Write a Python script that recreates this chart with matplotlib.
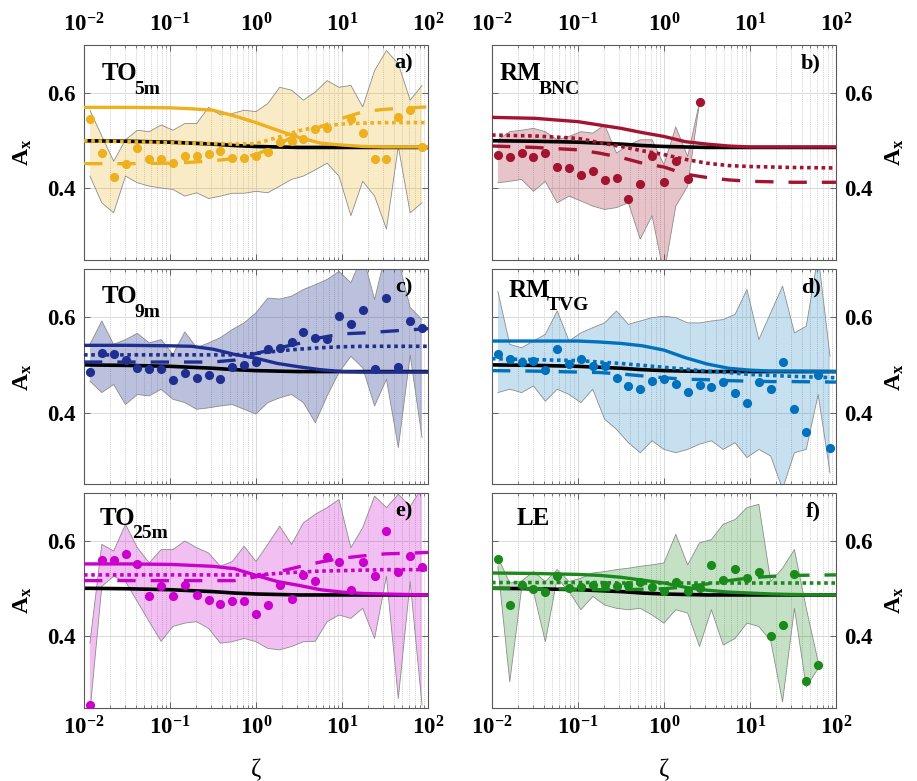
import numpy as np
import matplotlib
matplotlib.use("Agg")
import matplotlib.pyplot as plt
from matplotlib.ticker import LogLocator, FixedLocator, FuncFormatter, NullFormatter

plt.rcParams.update({
    "font.family": "Liberation Serif",
    "mathtext.fontset": "custom",
    "mathtext.rm": "Liberation Serif",
    "mathtext.bf": "Liberation Serif:bold",
    "mathtext.it": "Liberation Serif:italic",
})

nan = np.nan

# stability parameter bins: 29 logarithmic bins between 1e-2 and 1e2
zeta_edges = np.logspace(-2, 2, 30)
zeta_bins = np.sqrt(zeta_edges[:-1] * zeta_edges[1:])

# abscissa for the model curves
zeta_curve = [0.01, 0.0316, 0.1, 0.178, 0.316, 0.562, 1.0, 1.78, 3.16, 5.62, 10.0, 17.8, 31.6, 100.0]

# reference curve (black) common to all sites
ref_curve = [0.500, 0.499, 0.497, 0.495, 0.493, 0.490, 0.488, 0.487, 0.486, 0.486, 0.486, 0.486, 0.486, 0.486]

site_main = ["TO", "RM", "TO", "RM", "TO", "LE"]
site_sub = ["5m", "BNC", "9m", "TVG", "25m", ""]
panel_tags = ["a)", "b)", "c)", "d)", "e)", "f)"]
site_colors = ["#EDB120", "#A2142F", "#1F2F8F", "#0072BD", "#CC00CC", "#1A8A1A"]

# --- TO 5m ---
med_a = [0.545, 0.474, 0.424, 0.451, 0.484, 0.461, 0.462, 0.453, 0.469, 0.469, 0.472, 0.479, 0.463, 0.464,
         0.469, 0.476, 0.497, 0.500, 0.504, 0.524, 0.527, nan, 0.545, 0.516, 0.461, 0.461, 0.549, 0.565, 0.487]
hi_a = [0.564, 0.510, 0.457, 0.502, 0.522, 0.519, 0.533, 0.522, 0.536, 0.536, 0.570, 0.554, 0.557, 0.564,
        0.561, 0.578, 0.612, 0.606, 0.585, 0.602, 0.626, 0.612, 0.616, 0.571, 0.647, 0.689, 0.661, 0.585, 0.616]
lo_a = [0.426, 0.370, 0.349, 0.426, 0.412, 0.405, 0.401, 0.398, 0.384, 0.391, 0.379, 0.384, 0.390, 0.390,
        0.394, 0.391, 0.405, 0.419, 0.426, 0.439, 0.453, 0.426, 0.343, 0.415, 0.384, 0.315, 0.488, 0.349, 0.370]
solid_a = [0.570, 0.570, 0.569, 0.567, 0.564, 0.552, 0.538, 0.522, 0.507, 0.495, 0.491, 0.488, 0.487, 0.487]
dot_a = [0.500, 0.498, 0.496, 0.495, 0.494, 0.493, 0.494, 0.507, 0.521, 0.530, 0.535, 0.537, 0.538, 0.538]
dash_a = [0.452, 0.452, 0.453, 0.455, 0.458, 0.463, 0.471, 0.491, 0.516, 0.529, 0.547, 0.561, 0.566, 0.571]

# --- RM BNC ---
med_b = [0.471, 0.467, 0.474, 0.465, 0.474, 0.446, 0.443, 0.428, 0.437, 0.417, 0.421, 0.379, 0.410, 0.469,
         0.414, 0.457, 0.420, 0.581, nan, nan, nan, nan, nan, nan, nan, nan, nan, nan, nan]
hi_b = [0.502, 0.519, 0.522, 0.526, 0.519, 0.502, 0.509, 0.519, 0.516, 0.533, 0.474, 0.491, 0.502, 0.502,
        0.450, 0.529, 0.467, 0.581, nan, nan, nan, nan, nan, nan, nan, nan, nan, nan, nan]
lo_b = [0.412, 0.415, 0.419, 0.394, 0.415, 0.370, 0.384, 0.374, 0.363, 0.356, 0.360, 0.370, 0.294, 0.343,
        0.220, 0.363, 0.405, 0.581, nan, nan, nan, nan, nan, nan, nan, nan, nan, nan, nan]
solid_b = [0.549, 0.547, 0.540, 0.533, 0.526, 0.517, 0.509, 0.498, 0.493, 0.489, 0.487, 0.487, 0.487, 0.487]
dot_b = [0.512, 0.510, 0.505, 0.496, 0.488, 0.479, 0.471, 0.461, 0.453, 0.448, 0.446, 0.445, 0.444, 0.443]
dash_b = [0.489, 0.486, 0.481, 0.474, 0.465, 0.453, 0.445, 0.430, 0.423, 0.418, 0.415, 0.414, 0.413, 0.413]

# --- TO 9m ---
med_c = [0.486, 0.525, 0.523, 0.511, 0.494, 0.491, 0.492, 0.468, 0.482, 0.472, 0.478, 0.470, 0.496, 0.500,
         0.507, 0.534, 0.536, 0.548, 0.569, 0.557, 0.555, 0.602, 0.585, 0.616, 0.492, 0.640, 0.495, 0.592, 0.578]
hi_c = [0.543, 0.592, 0.543, 0.553, 0.566, 0.546, 0.553, 0.522, 0.569, 0.536, 0.546, 0.557, 0.574, 0.588,
        0.609, 0.640, 0.638, 0.644, 0.658, 0.668, 0.679, 0.696, 0.672, 0.730, 0.637, 0.740, 0.720, 0.620, 0.595]
lo_c = [0.466, 0.442, 0.459, 0.417, 0.438, 0.435, 0.449, 0.428, 0.421, 0.407, 0.410, 0.414, 0.417, 0.407,
        0.397, 0.421, 0.431, 0.438, 0.421, 0.379, 0.435, 0.484, 0.518, 0.494, 0.414, 0.470, 0.327, 0.520, 0.348]
solid_c = [0.541, 0.541, 0.540, 0.539, 0.533, 0.522, 0.514, 0.503, 0.496, 0.490, 0.486, 0.485, 0.485, 0.485]
dot_c = [0.521, 0.521, 0.521, 0.521, 0.521, 0.521, 0.524, 0.529, 0.533, 0.536, 0.538, 0.539, 0.539, 0.539]
dash_c = [0.506, 0.506, 0.506, 0.506, 0.506, 0.510, 0.524, 0.535, 0.545, 0.557, 0.565, 0.567, 0.570, 0.576]

# --- RM TVG ---
med_d = [0.522, 0.512, 0.506, 0.508, 0.489, 0.534, 0.501, 0.512, 0.498, 0.498, 0.473, 0.456, 0.449, 0.466,
         0.471, 0.459, 0.443, 0.457, 0.454, 0.464, 0.442, 0.420, 0.464, 0.450, 0.506, 0.408, 0.360, 0.478, 0.325]
hi_d = [0.654, 0.543, 0.536, 0.550, 0.564, 0.613, 0.550, 0.567, 0.578, 0.588, 0.613, 0.585, 0.592, 0.599,
        0.602, 0.599, 0.588, 0.588, 0.592, 0.595, 0.606, 0.658, 0.553, 0.609, 0.665, 0.567, 0.581, 0.730, 0.518]
lo_d = [0.442, 0.449, 0.442, 0.456, 0.424, 0.449, 0.438, 0.421, 0.449, 0.386, 0.365, 0.337, 0.316, 0.341,
        0.323, 0.316, 0.323, 0.334, 0.341, 0.323, 0.337, 0.306, 0.323, 0.309, 0.240, 0.316, 0.323, 0.438, 0.274]
solid_d = [0.550, 0.550, 0.550, 0.548, 0.545, 0.540, 0.531, 0.515, 0.502, 0.493, 0.489, 0.487, 0.487, 0.486]
dot_d = [0.513, 0.511, 0.509, 0.506, 0.503, 0.499, 0.495, 0.491, 0.487, 0.484, 0.480, 0.478, 0.476, 0.473]
dash_d = [0.488, 0.487, 0.485, 0.484, 0.481, 0.477, 0.473, 0.470, 0.469, 0.467, 0.466, 0.465, 0.465, 0.464]

# --- TO 25m ---
med_e = [0.255, 0.559, 0.560, 0.571, 0.551, 0.483, 0.504, 0.483, 0.506, 0.486, 0.476, 0.467, 0.474, 0.474,
         0.446, 0.464, 0.506, 0.478, 0.528, 0.516, 0.565, 0.556, 0.497, 0.555, 0.525, 0.621, 0.535, 0.567, 0.544]
hi_e = [0.385, 0.592, 0.578, 0.634, 0.585, 0.553, 0.581, 0.581, 0.599, 0.585, 0.574, 0.546, 0.556, 0.588,
        0.556, 0.592, 0.630, 0.592, 0.637, 0.655, 0.669, 0.686, 0.585, 0.627, 0.693, 0.669, 0.697, 0.672, 0.710]
lo_e = [0.240, 0.504, 0.525, 0.514, 0.472, 0.430, 0.389, 0.420, 0.427, 0.430, 0.416, 0.385, 0.388, 0.395,
        0.388, 0.374, 0.371, 0.378, 0.388, 0.389, 0.430, 0.444, 0.437, 0.458, 0.395, 0.525, 0.269, 0.514, 0.255]
solid_e = [0.551, 0.551, 0.550, 0.548, 0.546, 0.541, 0.527, 0.514, 0.506, 0.497, 0.492, 0.489, 0.488, 0.486]
dot_e = [0.528, 0.528, 0.528, 0.528, 0.528, 0.528, 0.528, 0.531, 0.534, 0.536, 0.537, 0.538, 0.539, 0.539]
dash_e = [0.516, 0.516, 0.516, 0.516, 0.516, 0.516, 0.524, 0.534, 0.545, 0.555, 0.563, 0.568, 0.572, 0.575]

# --- LE ---
med_f = [0.561, 0.464, 0.507, 0.499, 0.493, 0.525, 0.500, 0.502, 0.506, 0.507, 0.504, 0.507, 0.514, 0.502,
         0.495, 0.514, 0.495, 0.500, 0.548, 0.518, 0.540, 0.521, 0.535, 0.401, 0.423, 0.530, 0.305, 0.339, nan]
hi_f = [0.565, 0.511, 0.515, 0.535, 0.514, 0.539, 0.514, 0.521, 0.532, 0.535, 0.539, 0.542, 0.546, 0.549,
        0.553, 0.613, 0.549, 0.595, 0.602, 0.634, 0.644, 0.669, 0.676, 0.514, 0.542, 0.581, 0.458, 0.346, nan]
lo_f = [0.545, 0.304, 0.500, 0.493, 0.388, 0.521, 0.493, 0.455, 0.483, 0.465, 0.458, 0.455, 0.458, 0.444,
        0.427, 0.455, 0.448, 0.378, 0.455, 0.381, 0.395, 0.427, 0.420, 0.390, 0.262, 0.458, 0.293, 0.332, nan]
solid_f = [0.532, 0.531, 0.529, 0.527, 0.523, 0.517, 0.511, 0.502, 0.496, 0.492, 0.490, 0.488, 0.487, 0.486]
dot_f = [0.512, 0.512, 0.512, 0.512, 0.511, 0.511, 0.511, 0.511, 0.511, 0.511, 0.511, 0.511, 0.511, 0.511]
dash_f = [0.500, 0.499, 0.498, 0.497, 0.497, 0.498, 0.499, 0.503, 0.509, 0.516, 0.522, 0.525, 0.527, 0.528]

medians = [med_a, med_b, med_c, med_d, med_e, med_f]
uppers = [hi_a, hi_b, hi_c, hi_d, hi_e, hi_f]
lowers = [lo_a, lo_b, lo_c, lo_d, lo_e, lo_f]
solids = [solid_a, solid_b, solid_c, solid_d, solid_e, solid_f]
dotteds = [dot_a, dot_b, dot_c, dot_d, dot_e, dot_f]
dasheds = [dash_a, dash_b, dash_c, dash_d, dash_e, dash_f]
fill_alpha = [0.25, 0.25, 0.30, 0.22, 0.25, 0.25]

# placement of the site names (axes fraction, baseline)
name_x = [0.052, 0.022, 0.052, 0.047, 0.044, 0.073]
name_y = [0.837, 0.837, 0.843, 0.872, 0.850, 0.850]

fig = plt.figure(figsize=(9.17, 7.81), dpi=100)
renderer = fig.canvas.get_renderer()
col_left = [0.0916, 0.5365]
row_bottom = [0.667, 0.380, 0.094]
ax_w, ax_h = 0.3751, 0.275

def decade_label(v, pos):
    return r"$\mathbf{10^{%d}}$" % int(round(np.log10(v)))

for i in range(6):
    row, col = divmod(i, 2)
    ax = fig.add_axes([col_left[col], row_bottom[row], ax_w, ax_h])
    c = site_colors[i]
    ax.set_xscale("log")
    ax.set_xlim(1e-2, 1e2)
    ax.set_ylim(0.25, 0.7)

    ax.fill_between(zeta_bins, lowers[i], uppers[i], facecolor=c, alpha=fill_alpha[i],
                    edgecolor="none", zorder=1)
    ax.plot(zeta_bins, uppers[i], color="0.55", lw=0.6, zorder=1.5)
    ax.plot(zeta_bins, lowers[i], color="0.55", lw=0.6, zorder=1.5)

    ax.plot(zeta_curve, ref_curve, color="black", lw=2.6, zorder=2)
    ax.plot(zeta_curve, solids[i], color=c, lw=2.4, zorder=3)
    ax.plot(zeta_curve, dasheds[i], color=c, lw=2.4, dashes=(5.5, 4.5), zorder=3)
    ax.plot(zeta_curve, dotteds[i], color=c, lw=2.6, dashes=(1.0, 1.0), zorder=3)
    ax.plot(zeta_bins, medians[i], "o", color=c, ms=6.6, mec="none", zorder=4)

    ax.xaxis.set_major_locator(LogLocator(base=10, numticks=10))
    ax.xaxis.set_minor_locator(LogLocator(base=10, subs=np.arange(2, 10), numticks=50))
    ax.xaxis.set_major_formatter(FuncFormatter(decade_label))
    ax.xaxis.set_minor_formatter(NullFormatter())
    ax.yaxis.set_major_locator(FixedLocator([0.4, 0.6]))
    ax.yaxis.set_major_formatter(FuncFormatter(lambda v, p: "%.1f" % v))

    ax.grid(which="major", color="0.85", lw=0.7, ls="-", zorder=0)
    ax.grid(which="minor", axis="x", color="0.75", lw=0.5, ls=(0, (1.5, 1.5)), zorder=0)
    ax.set_axisbelow(True)

    ax.tick_params(which="both", direction="in", top=True, bottom=True, left=True, right=True,
                   color="0.3")
    ax.tick_params(which="major", length=4, width=0.6, labelsize=16.5, pad=6)
    ax.tick_params(which="minor", length=2.5, width=0.5)
    ax.tick_params(labelleft=(col == 0), labelright=(col == 1),
                   labeltop=(row == 0), labelbottom=(row == 2))
    for lab in ax.get_yticklabels():
        lab.set_fontweight("bold")
    for sp in ax.spines.values():
        sp.set_color("0.35")
        sp.set_linewidth(0.8)

    # site name with a lowered subscript
    name = ax.text(name_x[i], name_y[i], site_main[i], transform=ax.transAxes, fontsize=18,
                   fontweight="bold", ha="left", va="baseline", color="black")
    if site_sub[i]:
        bb = name.get_window_extent(renderer)
        sx = ax.transAxes.inverted().transform((bb.x1 - 3.0, 0))[0]
        ax.text(sx, name_y[i] - 0.002, site_sub[i], transform=ax.transAxes, fontsize=14,
                fontweight="bold", ha="left", va="top", color="black")

    ax.text(0.956, 0.915, panel_tags[i], transform=ax.transAxes, fontsize=16,
            fontweight="bold", ha="right", va="center", color="black")

    ylab_x = -0.177 if col == 0 else 1.172
    ax.text(ylab_x, 0.5, r"$\mathbf{A_x}$", transform=ax.transAxes, fontsize=17,
            rotation=90, ha="center", va="center")
    if row == 2:
        ax.text(0.5, -0.29, "ζ", transform=ax.transAxes, fontsize=18,
                ha="center", va="center")

fig.savefig("out.png", dpi=100)
